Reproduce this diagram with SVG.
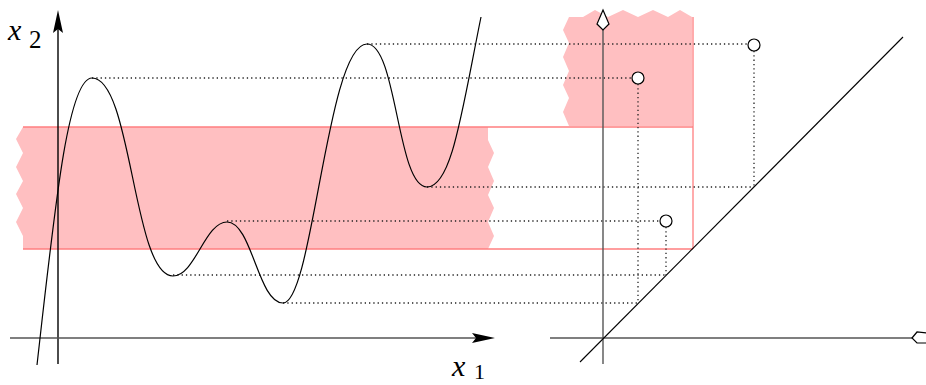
<svg xmlns="http://www.w3.org/2000/svg" width="926" height="385" viewBox="0 0 926 385">
<style>
.pink{fill:#ffbfc1;stroke:none}
.red{stroke:#ff7f80;stroke-width:1.3;fill:none}
.dot{stroke:#222;stroke-width:1.3;stroke-dasharray:1.3 3;fill:none}
.axis{stroke:#555;stroke-width:1.4;fill:none}
.curve{stroke:#000;stroke-width:1.2;fill:none}
.lbl{font-family:"Liberation Serif",serif;fill:#000}
.pt{fill:#fff;stroke:#000;stroke-width:1.2}
</style>
<g id="regions">
<path class="pink" d="M23,127 L488,127 L488,140 L494,153 L488,167 L494,181 L488,195 L494,208 L488,222 L494,236 L488,249 L23,249 L23,236 L16,222 L23,208 L16,194 L23,181 L16,167 L23,153 L16,139 Z"/>
<path class="pink" d="M569,126 L563,112 L569,98 L563,85 L569,71 L563,57 L569,43 L563,30 L569,17 L583,17 L595,10 L608,17 L623,10 L638,17 L653,10 L668,17 L680,10 L692,17 L692,126 Z"/>
<path class="red" d="M23,127 L693,127 M23,249 L693,249 M693,17 L693,249"/>
</g>
<g id="connectors">
<path class="dot" d="M92,78 H632 M367,44 H748 M427,187 H754 M227,221 H660 M173,275 H666 M283,303 H638 M638,84 V303 M754,51 V187 M666,227 V275"/>
</g>
<g id="left-axes">
<line x1="58" y1="364" x2="58" y2="28" stroke="#000" stroke-width="1.4"/>
<path d="M58,10 L63,33 L58,29 L53,33 Z" fill="#000"/>
<line x1="10" y1="338" x2="480" y2="338" class="axis"/>
<path d="M495,338 L472,333 L476,338 L472,343 Z" fill="#000"/>
<text class="lbl" x="8" y="40" font-size="30" font-style="italic">x</text>
<text class="lbl" x="29" y="48" font-size="25">2</text>
<text class="lbl" x="452" y="376" font-size="30" font-style="italic">x</text>
<text class="lbl" x="474" y="379" font-size="22">1</text>
</g>
<g id="curve">
<path class="curve" d="M37,365 C55,205 68,78 92,78 C132,78 133,276 173,276 C195,276 205,222 227,222 C252,222 258,303 283,303 C313,303 327,44 367,44 C397,44 397,187 427,187 C452,187 462,110 481,17"/>
</g>
<g id="right-axes">
<line x1="603" y1="364" x2="603" y2="30" class="axis"/>
<path d="M603,10 L609,24 L603,30 L597,24 Z" fill="#fff" stroke="#000" stroke-width="1.2"/>
<line x1="550" y1="338" x2="912" y2="338" class="axis"/>
<path d="M912,338 L917,332 L927,333 L927,343 L917,343 Z" fill="#fff" stroke="#000" stroke-width="1.2"/>
<line x1="580" y1="362" x2="903" y2="37" stroke="#000" stroke-width="1.1"/>
</g>
<g id="points">
<circle class="pt" cx="638" cy="78" r="6"/>
<circle class="pt" cx="754" cy="45" r="6"/>
<circle class="pt" cx="666" cy="221" r="6"/>
</g>
</svg>
